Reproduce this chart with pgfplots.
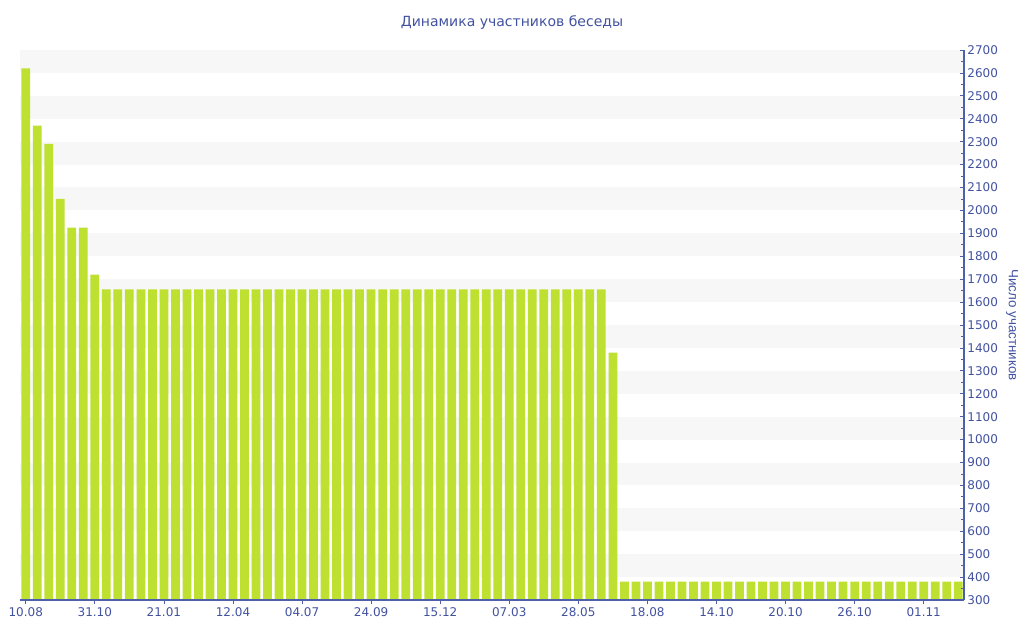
\documentclass[border=0pt]{standalone}
\usepackage{pgfplots}
\pgfplotsset{compat=1.18}
\usepackage{fontspec}
\setmainfont{DejaVu Sans}
\newfontfamily\labfont{Liberation Sans}
\definecolor{txtblue}{RGB}{66,82,160}
\definecolor{axblue}{RGB}{78,96,170}
\definecolor{bargreen}{RGB}{190,224,49}
\definecolor{band}{RGB}{247,247,247}
\begin{document}
\begin{tikzpicture}
\useasboundingbox (0,0) rectangle (768pt,480pt);
\begin{axis}[
  at={(15pt,30pt)}, anchor=south west,
  width=708pt, height=412.5pt, scale only axis,
  xmin=-0.5, xmax=81.5, ymin=300, ymax=2700,
  axis x line*=bottom, axis y line*=right,
  axis line style={axblue, line width=0.8pt, -},
  xtick={0,6,...,78},
  xticklabels={10.08,31.10,21.01,12.04,04.07,24.09,15.12,07.03,28.05,18.08,14.10,20.10,26.10,01.11},
  ytick={300,400,...,2700},
  minor y tick num=1,
  xtick align=outside, ytick align=inside,
  major tick length=3pt, minor tick length=2pt,
  tick style={draw=axblue, line width=0.6pt},
  ticklabel style={font=\fontsize{9}{10}\selectfont, text=txtblue},
  /pgf/number format/assume math mode=true,
  /pgf/number format/1000 sep={},
  xticklabel style={yshift=1pt},
  yticklabel style={xshift=-1pt},
  axis on top=true,
]
\pgfplotsinvokeforeach{400,600,...,2600}{
  \fill[band] (axis cs:-0.5,#1) rectangle (axis cs:81.5,#1+100);
}
\addplot[ybar, bar width=0.76, bar shift=0pt, fill=bargreen, draw=none] coordinates {
(0,2620) (1,2370) (2,2290) (3,2050) (4,1925) (5,1925) (6,1720)
(7,1655) (8,1655) (9,1655) (10,1655) (11,1655) (12,1655) (13,1655) (14,1655) (15,1655) (16,1655)
(17,1655) (18,1655) (19,1655) (20,1655) (21,1655) (22,1655) (23,1655) (24,1655) (25,1655) (26,1655)
(27,1655) (28,1655) (29,1655) (30,1655) (31,1655) (32,1655) (33,1655) (34,1655) (35,1655) (36,1655)
(37,1655) (38,1655) (39,1655) (40,1655) (41,1655) (42,1655) (43,1655) (44,1655) (45,1655) (46,1655)
(47,1655) (48,1655) (49,1655) (50,1655)
(51,1380)
(52,380) (53,380) (54,380) (55,380) (56,380) (57,380) (58,380) (59,380) (60,380) (61,380)
(62,380) (63,380) (64,380) (65,380) (66,380) (67,380) (68,380) (69,380) (70,380) (71,380)
(72,380) (73,380) (74,380) (75,380) (76,380) (77,380) (78,380) (79,380) (80,380) (81,380)
};
\end{axis}
\node[text=txtblue, font=\fontsize{10.5}{12}\selectfont] at (384pt,463pt) {Динамика участников беседы};
\node[text=txtblue, font=\labfont\fontsize{10}{12}\selectfont, rotate=-90] at (759pt,236.25pt) {Число участников};
\end{tikzpicture}
\end{document}
